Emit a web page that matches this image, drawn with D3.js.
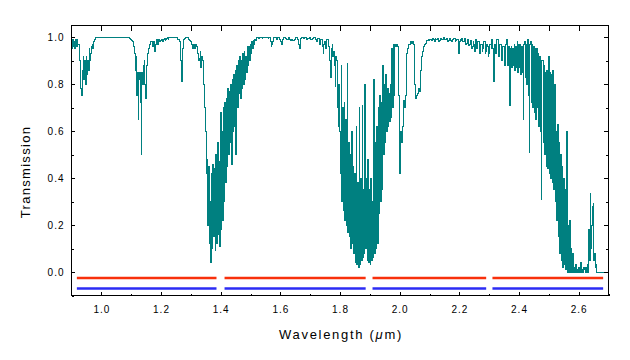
<!DOCTYPE html>
<html><head><meta charset="utf-8">
<script src="https://cdn.jsdelivr.net/npm/d3@7"></script>
<style>
html,body{margin:0;padding:0;background:#fff;}
svg{display:block;font-family:"Liberation Sans",Arial,sans-serif;}
</style></head><body>
<svg id="chart" width="630" height="360"></svg>
<script>
// ---- data ----
const wavelengthStart = 0.9;    // µm, first sample
const wavelengthStep = 0.0025;  // µm between samples
const transmission = [
0.97,0.95,0.99,0.96,0.98,0.95,0.99,0.96,0.99,0.97,0.97,0.9,0.85,0.78,0.75,0.86,0.92,0.82,0.9,0.8,
0.92,0.84,0.9,0.86,0.95,0.9,0.93,0.96,0.97,0.95,0.98,0.99,0.99,1,1,1,1,1,1,1,
1,1,1,1,1,1,1,1,1,1,1,1,1,1,1,1,1,1,1,1,
1,1,1,1,1,1,1,1,1,1,1,1,1,1,1,1,1,1,0.995,0.99,
0.99,0.985,0.98,0.97,0.96,0.93,0.86,0.92,0.75,0.85,0.65,0.82,0.85,0.72,0.5,0.85,0.8,0.88,0.9,0.8,
0.74,0.88,0.9,0.93,0.95,0.97,0.97,0.98,0.98,0.96,0.96,0.98,0.94,0.97,0.98,0.99,0.97,0.99,0.99,0.98,
0.985,0.99,0.99,0.98,0.99,0.995,0.985,0.99,0.995,1,0.99,1,1,1,1,1,1,1,1,1,
1,1,0.995,0.99,0.99,0.98,0.95,0.9,0.81,0.95,0.97,0.99,0.995,1,1,1,1,0.995,0.99,0.985,
0.98,0.97,0.97,0.95,0.97,0.96,0.95,0.97,0.96,0.93,0.93,0.9,0.91,0.94,0.87,0.92,0.9,0.86,0.8,0.7,
0.6,0.42,0.48,0.2,0.45,0.12,0.3,0.04,0.42,0.1,0.46,0.15,0.44,0.09,0.5,0.12,0.55,0.16,0.47,0.11,
0.68,0.18,0.6,0.22,0.7,0.3,0.72,0.38,0.74,0.45,0.78,0.5,0.77,0.55,0.8,0.46,0.82,0.6,0.84,0.62,
0.86,0.5,0.88,0.7,0.9,0.76,0.92,0.74,0.9,0.78,0.93,0.8,0.94,0.82,0.92,0.85,0.96,0.88,0.96,0.9,
0.97,0.93,0.98,0.95,0.985,0.97,0.99,0.985,0.99,1,1,0.995,0.995,1,1,1,0.995,1,1,1,
1,1,1,1,0.995,1,1,0.98,0.96,0.97,0.98,0.99,1,1,1,0.995,0.99,1,1,0.995,
0.99,0.98,0.97,0.98,0.99,1,1,0.995,0.995,0.99,0.99,1,1,0.99,0.985,0.99,0.99,0.985,0.985,0.99,
0.99,1,1,0.99,0.99,0.97,0.95,0.99,0.995,1,1,0.995,0.995,1,1,0.99,0.99,0.995,0.995,1,
1,0.99,0.99,0.995,0.995,1,1,0.99,0.99,0.98,0.98,0.995,0.995,0.97,0.97,0.99,0.99,0.96,0.93,0.97,
0.98,0.95,0.95,0.99,0.99,0.96,0.96,0.9,0.83,0.95,0.97,0.92,0.94,0.88,0.79,0.92,0.9,0.7,0.62,0.8,
0.6,0.42,0.88,0.3,0.7,0.26,0.72,0.22,0.65,0.2,0.89,0.17,0.55,0.15,0.5,0.1,0.6,0.12,0.45,0.08,
0.42,0.04,0.62,0.03,0.38,0.02,0.7,0.03,0.4,0.05,0.71,0.06,0.35,0.08,0.8,0.1,0.4,0.05,0.48,0.04,
0.35,0.03,0.4,0.05,0.3,0.06,0.82,0.08,0.55,0.1,0.62,0.12,0.7,0.25,0.75,0.3,0.72,0.35,0.88,0.5,
0.8,0.55,0.84,0.6,0.78,0.62,0.76,0.64,0.8,0.66,0.95,0.7,0.97,0.75,0.97,0.96,0.97,0.96,0.96,0.75,
0.42,0.5,0.6,0.55,0.62,0.7,0.73,0.7,0.75,0.85,0.93,0.95,0.97,0.97,0.97,0.98,0.98,0.975,0.98,0.97,
0.97,0.8,0.74,0.75,0.75,0.76,0.78,0.77,0.8,0.86,0.92,0.94,0.95,0.96,0.97,0.975,0.98,0.985,0.985,0.99,
0.985,0.99,0.99,0.985,0.985,0.995,0.99,0.98,0.995,0.99,0.99,0.995,0.995,0.98,0.985,0.995,0.995,0.99,0.99,1,
1,0.99,0.99,0.995,0.995,0.98,0.985,0.995,0.995,0.985,0.98,0.99,0.99,0.995,0.995,0.98,0.985,0.99,0.99,0.97,
0.93,0.98,0.99,0.985,0.995,0.98,0.98,0.99,0.995,0.97,0.975,0.99,0.99,0.965,0.97,0.985,0.985,0.95,0.96,0.98,
0.97,0.94,0.99,0.96,0.95,0.98,0.98,0.93,0.93,0.97,0.97,0.94,0.95,0.98,0.98,0.93,0.94,0.97,0.96,0.92,
0.93,0.97,0.97,0.95,0.99,0.95,0.81,0.97,0.97,0.93,0.96,0.99,0.99,0.92,0.94,0.97,0.97,0.9,0.92,0.96,
0.96,0.88,0.89,0.97,0.99,0.88,0.9,0.96,0.71,0.95,0.96,0.87,0.95,0.88,0.97,0.86,0.96,0.87,0.98,0.85,
0.97,0.87,0.97,0.84,0.96,0.85,0.65,0.97,0.98,0.83,0.97,0.8,0.99,0.75,0.51,0.97,0.98,0.72,0.97,0.7,
0.96,0.68,0.95,0.65,0.95,0.7,0.93,0.62,0.92,0.6,0.31,0.9,0.9,0.55,0.88,0.5,0.85,0.45,0.86,0.44,
0.92,0.42,0.85,0.4,0.84,0.38,0.86,0.35,0.8,0.3,0.6,0.22,0.63,0.15,0.55,0.08,0.5,0.05,0.45,0.02,
0.4,0.03,0.35,0.01,0.6,0,0.2,0,0.22,0,0.1,0,0.08,0,0.02,0,0.03,0,0.01,0,
0.02,0,0,0.04,0,0.01,0,0.02,0.01,0,0.02,0,0.03,0,0.18,0.05,0.335,0.1,0.2,0.28,
0.29,0.05,0.08,0.02,0.03,0,0,0,0,0,0,0,0,0,0,0,0,0,0,0,
0
];
const xTickValues = [1.0,1.2,1.4,1.6,1.8,2.0,2.2,2.4,2.6];
const xMinorValues = [1.1,1.3,1.5,1.7,1.9,2.1,2.3,2.5,2.7];
const yTickValues = [0.0,0.2,0.4,0.6,0.8,1.0];
const yMinorValues = [-0.1,0.1,0.3,0.5,0.7,0.9];
const redSegments = [[0.918,1.386],[1.413,1.886],[1.909,2.290],[2.311,2.682]];
const blueSegments = [[0.918,1.386],[1.413,1.886],[1.909,2.290],[2.311,2.682]];
const redLevel = -0.025;
const blueLevel = -0.07;

// ---- chart ----
const svg = d3.select("#chart");
const L = 71.5, R = 608.5, T = 25.5, B = 295.5;
const x = d3.scaleLinear().domain([0.9, 2.7]).range([L, R]);
const y = d3.scaleLinear().domain([-0.1, 1.05]).range([B, T]);
const fmt = d3.format(".1f");
const teal = "#008080";

const data = transmission.map((v, i) => ({w: wavelengthStart + i * wavelengthStep, t: v}));

// spectrum: stepped, aliased 1px trace like the original raster
svg.append("path")
  .datum(data)
  .attr("fill", "none")
  .attr("stroke", teal)
  .attr("stroke-width", 1)
  .attr("shape-rendering", "crispEdges")
  .attr("d", d3.line().x(d => x(d.w)).y(d => y(d.t)).curve(d3.curveStep));

// band bars
function bars(segs, level, color) {
  svg.append("g").selectAll("line").data(segs).join("line")
    .attr("x1", d => x(d[0])).attr("x2", d => x(d[1]))
    .attr("y1", y(level)).attr("y2", y(level))
    .attr("stroke", color).attr("stroke-width", 2.5);
}
bars(redSegments, redLevel, "#f8300c");
bars(blueSegments, blueLevel, "#2c2cf4");

// axes
function styleAxis(g) {
  g.attr("shape-rendering", "crispEdges");
  g.selectAll("path").remove();
  g.selectAll("line").attr("stroke", "#000");
  g.selectAll("text").attr("font-size", 10).attr("letter-spacing", "1px")
    .attr("fill", "#000").attr("font-family", "'Liberation Sans', Arial, sans-serif");
}
svg.append("g").attr("transform", `translate(0,${B})`)
  .call(d3.axisBottom(x).tickValues(xTickValues).tickFormat(fmt).tickSizeInner(-4).tickSizeOuter(0).tickPadding(10.5))
  .call(styleAxis);
svg.append("g").attr("transform", `translate(0,${B})`)
  .call(d3.axisBottom(x).tickValues(xMinorValues).tickFormat("").tickSizeInner(-2).tickSizeOuter(0))
  .call(styleAxis);
svg.append("g").attr("transform", `translate(${L},0)`)
  .call(d3.axisLeft(y).tickValues(yTickValues).tickFormat(fmt).tickSizeInner(-3).tickSizeOuter(0).tickPadding(7))
  .call(styleAxis);
svg.append("g").attr("transform", `translate(${L},0)`)
  .call(d3.axisLeft(y).tickValues(yMinorValues).tickFormat("").tickSizeInner(-2).tickSizeOuter(0))
  .call(styleAxis);
svg.append("g").attr("transform", `translate(0,${T})`)
  .call(d3.axisTop(x).tickValues(xTickValues.concat(xMinorValues.slice(0, -1))).tickFormat("").tickSizeInner(-5).tickSizeOuter(0))
  .call(styleAxis);
svg.append("g").attr("transform", `translate(${R},0)`)
  .call(d3.axisRight(y).tickValues(yTickValues).tickFormat("").tickSizeInner(-5).tickSizeOuter(0))
  .call(styleAxis);
svg.append("g").attr("transform", `translate(${R},0)`)
  .call(d3.axisRight(y).tickValues(yMinorValues.slice(1)).tickFormat("").tickSizeInner(-3).tickSizeOuter(0))
  .call(styleAxis);

// frame
svg.append("rect")
  .attr("x", L).attr("y", T).attr("width", R - L).attr("height", B - T)
  .attr("fill", "none").attr("stroke", "#000").attr("stroke-width", 1)
  .attr("shape-rendering", "crispEdges");

// titles
const xt = svg.append("text")
  .attr("x", (L + R) / 2 + 1).attr("y", 338.5)
  .attr("text-anchor", "middle").attr("font-size", 13).attr("letter-spacing", "1.7px")
  .attr("fill", "#000");
xt.append("tspan").text("Wavelength (");
xt.append("tspan").attr("font-style", "italic").text("μ");
xt.append("tspan").text("m)");

svg.append("text")
  .attr("transform", "translate(29.5,172) rotate(-90)")
  .attr("text-anchor", "middle").attr("font-size", 13).attr("letter-spacing", "1.3px")
  .attr("fill", "#000")
  .text("Transmission");
</script>
</body></html>
